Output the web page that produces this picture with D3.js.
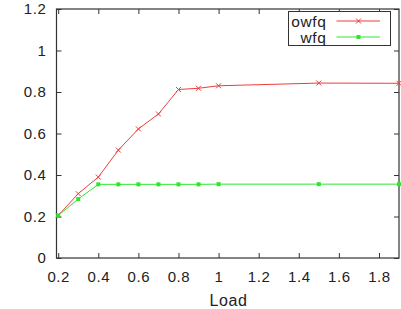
<!DOCTYPE html>
<html>
<head>
<meta charset="utf-8">
<script src="https://cdn.jsdelivr.net/npm/d3@7"></script>
<style>
  body { margin: 0; background: #fff; }
  text { font-family: "Liberation Sans", Arial, sans-serif; fill: #222; }
</style>
</head>
<body>
<div id="chart"></div>
<script>
const loads = [0.2, 0.3, 0.4, 0.5, 0.6, 0.7, 0.8, 0.9, 1.0, 1.5, 1.9];
const owfq = [0.205, 0.31, 0.39, 0.52, 0.622, 0.694, 0.812, 0.818, 0.83, 0.843, 0.842];
const wfq = [0.205, 0.284, 0.355, 0.355, 0.355, 0.355, 0.355, 0.355, 0.356, 0.356, 0.356];
const xTicks = [0.2, 0.4, 0.6, 0.8, 1, 1.2, 1.4, 1.6, 1.8];
const yTicks = [0, 0.2, 0.4, 0.6, 0.8, 1, 1.2];

const W = 401, H = 309;
const margin = { top: 9, right: 2, bottom: 51, left: 56.5 };
const width = W - margin.left - margin.right;
const height = H - margin.top - margin.bottom;

const svg = d3.select("#chart").append("svg")
  .attr("width", W).attr("height", H)
  .append("g")
  .attr("transform", `translate(${margin.left},${margin.top})`);

const x = d3.scaleLinear().domain([0.1915, 1.9]).range([0, width]);
const y = d3.scaleLinear().domain([0, 1.2]).range([height, 0]);

const tickLen = 5;
const fmt = d => String(d);
const fontSize = "15px", spacing = "0.6px";

// inward ticks on all four sides (gnuplot style)
svg.append("g").attr("transform", `translate(0,${height})`)
  .call(d3.axisBottom(x).tickValues(xTicks).tickFormat(fmt)
    .tickSizeInner(-tickLen).tickSizeOuter(0).tickPadding(13))
  .call(g => g.select(".domain").remove());
svg.append("g")
  .call(d3.axisLeft(y).tickValues(yTicks).tickFormat(fmt)
    .tickSizeInner(-tickLen).tickSizeOuter(0).tickPadding(10))
  .call(g => g.select(".domain").remove());
svg.append("g")
  .call(d3.axisTop(x).tickValues(xTicks).tickFormat("").tickSizeInner(-tickLen).tickSizeOuter(0))
  .call(g => g.select(".domain").remove());
svg.append("g").attr("transform", `translate(${width},0)`)
  .call(d3.axisRight(y).tickValues(yTicks).tickFormat("").tickSizeInner(-tickLen).tickSizeOuter(0))
  .call(g => g.select(".domain").remove());

svg.selectAll(".tick line").attr("stroke", "#333");
svg.selectAll(".tick text")
  .style("font-size", fontSize)
  .style("letter-spacing", spacing)
  .style("font-family", "'Liberation Sans', Arial, sans-serif")
  .attr("fill", "#222");

svg.append("rect")
  .attr("width", width).attr("height", height)
  .attr("fill", "none").attr("stroke", "#333").attr("stroke-width", 1.2);

svg.append("text")
  .attr("x", x(1.05)).attr("y", height + 48)
  .attr("text-anchor", "middle")
  .style("font-size", "16px")
  .style("letter-spacing", spacing)
  .text("Load");

const line = d3.line().x(d => x(d[0])).y(d => y(d[1]));
const red = "#f03c3c", green = "#2ee62e";

const series = [
  { name: "owfq", vals: owfq, color: red, marker: "x" },
  { name: "wfq", vals: wfq, color: green, marker: "sq" }
];

function drawMarker(g, type, cx, cy, color) {
  if (type === "x") {
    g.append("path")
      .attr("d", `M${cx - 2.5},${cy - 2.5}L${cx + 2.5},${cy + 2.5}M${cx - 2.5},${cy + 2.5}L${cx + 2.5},${cy - 2.5}`)
      .attr("stroke", color).attr("stroke-width", 1);
  } else {
    g.append("rect")
      .attr("x", cx - 2).attr("y", cy - 2).attr("width", 4).attr("height", 4)
      .attr("fill", color);
  }
}

series.forEach(s => {
  const pts = loads.map((l, i) => [l, s.vals[i]]);
  svg.append("path").datum(pts)
    .attr("d", line).attr("fill", "none")
    .attr("stroke", s.color).attr("stroke-width", 1);
  const mg = svg.append("g");
  pts.forEach(p => drawMarker(mg, s.marker, x(p[0]), y(p[1]), s.color));
});

// legend
const lg = svg.append("g").attr("transform", `translate(${288.5 - margin.left},${11.5 - margin.top})`);
lg.append("rect").attr("width", 102).attr("height", 34)
  .attr("fill", "#fff").attr("stroke", "#333").attr("stroke-width", 1);
series.forEach((s, i) => {
  const cy = 9.5 + i * 16;
  lg.append("text").attr("x", 38).attr("y", cy + 6)
    .attr("text-anchor", "end")
    .style("font-size", "15.5px")
    .style("letter-spacing", spacing)
    .text(s.name);
  lg.append("line").attr("x1", 48).attr("x2", 91.5).attr("y1", cy).attr("y2", cy)
    .attr("stroke", s.color).attr("stroke-width", 1);
  drawMarker(lg, s.marker, 70, cy, s.color);
});
</script>
</body>
</html>
